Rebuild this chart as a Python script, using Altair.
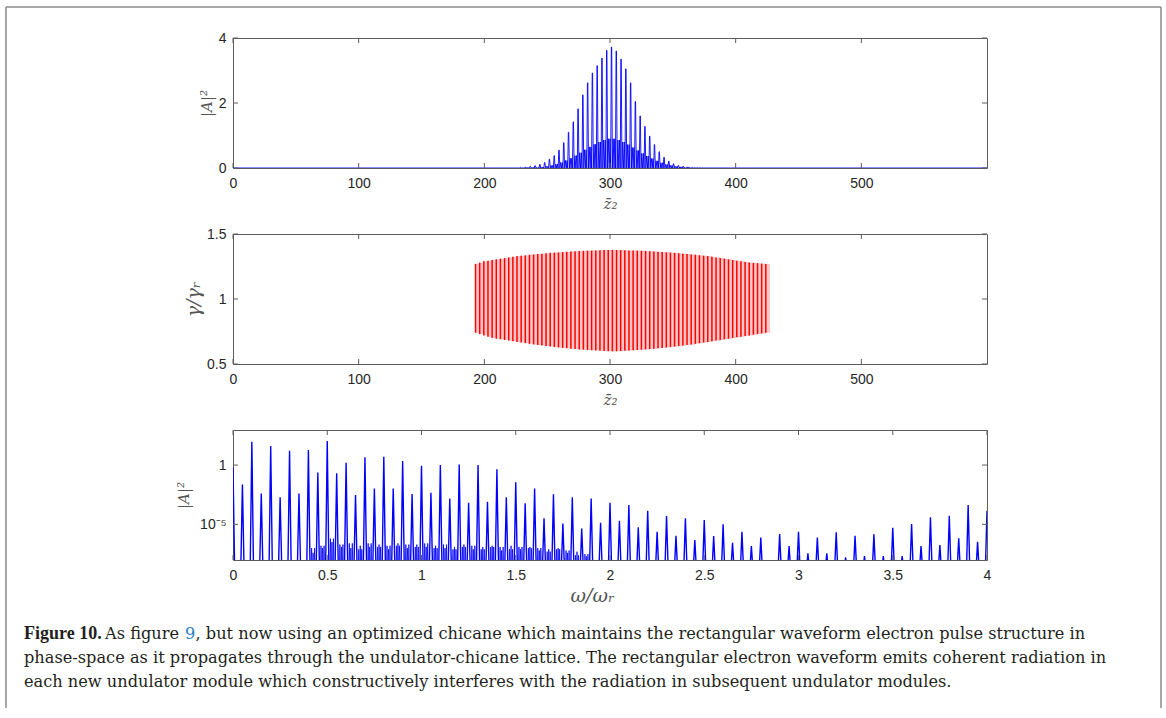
import altair as alt
import pandas as pd

# ---------------- data: panel 1 (|A|^2 vs z2) ----------------
top_z = [229.0, 232.8, 236.6, 240.4, 244.2, 248.0, 251.8, 255.6, 259.4, 263.2,
         267.0, 270.8, 274.6, 278.4, 282.2, 286.0, 289.8, 293.6, 297.4, 301.2,
         305.0, 308.8, 312.6, 316.4, 320.2, 324.0, 327.8, 331.6, 335.4, 339.2,
         343.0, 346.8, 350.6, 354.4, 358.2, 362.0, 365.8, 369.6]
top_main = [0.02, 0.03, 0.05, 0.07, 0.11, 0.17, 0.27, 0.38, 0.55, 0.78,
            1.10, 1.42, 1.82, 2.25, 2.62, 2.92, 3.15, 3.38, 3.62, 3.72,
            3.60, 3.35, 3.05, 2.62, 2.05, 1.60, 1.28, 0.98, 0.72, 0.50,
            0.33, 0.21, 0.13, 0.08, 0.05, 0.03, 0.02, 0.01]
top_fill = [0.005, 0.01, 0.015, 0.02, 0.03, 0.05, 0.08, 0.12, 0.17, 0.23,
            0.30, 0.38, 0.47, 0.56, 0.65, 0.73, 0.80, 0.86, 0.90, 0.90,
            0.86, 0.80, 0.72, 0.63, 0.54, 0.45, 0.37, 0.29, 0.22, 0.16,
            0.11, 0.08, 0.05, 0.035, 0.02, 0.012, 0.007, 0.004]

# ---------------- data: panel 2 (gamma/gamma_r vs z2) ----------------
mid_z = [193.0, 196.3, 199.6, 202.9, 206.2, 209.5, 212.8, 216.1, 219.4, 222.7,
         226.0, 229.3, 232.6, 235.9, 239.2, 242.5, 245.8, 249.1, 252.4, 255.7,
         259.0, 262.3, 265.6, 268.9, 272.2, 275.5, 278.8, 282.1, 285.4, 288.7,
         292.0, 295.3, 298.6, 301.9, 305.2, 308.5, 311.8, 315.1, 318.4, 321.7,
         325.0, 328.3, 331.6, 334.9, 338.2, 341.5, 344.8, 348.1, 351.4, 354.7,
         358.0, 361.3, 364.6, 367.9, 371.2, 374.5, 377.8, 381.1, 384.4, 387.7,
         391.0, 394.3, 397.6, 400.9, 404.2, 407.5, 410.8, 414.1, 417.4, 420.7,
         424.0]
mid_hi = [1.27, 1.28, 1.29, 1.295, 1.30, 1.305, 1.31, 1.315, 1.32, 1.325,
          1.33, 1.333, 1.336, 1.34, 1.343, 1.346, 1.349, 1.352, 1.355, 1.357,
          1.359, 1.361, 1.363, 1.365, 1.367, 1.369, 1.371, 1.372, 1.373, 1.374,
          1.375, 1.376, 1.377, 1.378, 1.377, 1.376, 1.375, 1.374, 1.373, 1.372,
          1.371, 1.369, 1.367, 1.365, 1.363, 1.361, 1.359, 1.357, 1.355, 1.352,
          1.349, 1.346, 1.343, 1.34, 1.336, 1.333, 1.33, 1.325, 1.32, 1.315,
          1.31, 1.305, 1.30, 1.295, 1.29, 1.285, 1.28, 1.278, 1.275, 1.272,
          1.27]
mid_lo = [0.74, 0.73, 0.72, 0.71, 0.70, 0.695, 0.69, 0.685, 0.68, 0.675,
          0.67, 0.665, 0.66, 0.655, 0.65, 0.646, 0.642, 0.638, 0.634, 0.63,
          0.627, 0.624, 0.621, 0.618, 0.615, 0.612, 0.61, 0.608, 0.606, 0.604,
          0.602, 0.6, 0.598, 0.597, 0.598, 0.6, 0.602, 0.604, 0.606, 0.608,
          0.61, 0.612, 0.615, 0.618, 0.621, 0.624, 0.627, 0.63, 0.634, 0.638,
          0.642, 0.646, 0.65, 0.655, 0.66, 0.665, 0.67, 0.675, 0.68, 0.685,
          0.69, 0.695, 0.70, 0.705, 0.71, 0.715, 0.72, 0.725, 0.73, 0.735,
          0.74]
mid_end = 427.3

# ---------------- data: panel 3 (spectrum, log10 |A|^2 vs w/wr) ----------------
spec_w = [0.00, 0.05, 0.10, 0.15, 0.20, 0.25, 0.30, 0.35, 0.40, 0.45,
          0.50, 0.55, 0.60, 0.65, 0.70, 0.75, 0.80, 0.85, 0.90, 0.95,
          1.00, 1.05, 1.10, 1.15, 1.20, 1.25, 1.30, 1.35, 1.40, 1.45,
          1.50, 1.55, 1.60, 1.65, 1.70, 1.75, 1.80, 1.85, 1.90, 1.95,
          2.00, 2.05, 2.10, 2.15, 2.20, 2.25, 2.30, 2.35, 2.40, 2.45,
          2.50, 2.55, 2.60, 2.65, 2.70, 2.75, 2.80, 2.85, 2.90, 2.95,
          3.00, 3.05, 3.10, 3.15, 3.20, 3.25, 3.30, 3.35, 3.40, 3.45,
          3.50, 3.55, 3.60, 3.65, 3.70, 3.75, 3.80, 3.85, 3.90, 3.95,
          4.00]
spec_log = [-0.14, -1.63, 1.96, -2.39, 1.60, -2.72, 1.20, -2.39, 1.26, -0.62,
            2.02, -0.70, 0.20, -2.53, 0.65, -1.97, 0.70, -1.97, 0.34, -2.44,
            -0.05, -2.33, 0.00, -2.81, 0.05, -3.17, 0.00, -3.09, -0.36, -2.72,
            -1.46, -3.23, -1.97, -4.49, -2.47, -4.92, -2.72, -5.34, -2.81, -4.86,
            -3.17, -4.69, -3.37, -5.25, -3.85, -5.62, -4.30, -5.96, -4.49, -6.32,
            -4.63, -5.98, -5.00, -6.54, -5.62, -6.82, -6.10, -8.50, -5.81, -6.82,
            -5.62, -7.44, -6.10, -7.44, -5.67, -7.78, -5.96, -7.67, -5.84, -7.67,
            -5.28, -7.67, -4.97, -6.82, -4.41, -6.74, -4.27, -6.18, -3.37, -6.46,
            -3.85]
grass_start = [0.40, 0.45, 0.50, 0.55, 0.60, 0.65, 0.70, 0.75, 0.80, 0.85,
               0.90, 0.95, 1.00, 1.05, 1.10, 1.15, 1.20, 1.25, 1.30, 1.35,
               1.40, 1.45, 1.50, 1.55, 1.60, 1.65, 1.70, 1.75, 1.80, 1.85]
grass_a = [-7.0, -6.8, -6.2, -6.7, -6.6, -7.1, -6.6, -6.9, -6.8, -6.8,
           -6.7, -6.9, -6.6, -7.0, -6.7, -7.1, -6.9, -6.8, -7.1, -6.9,
           -6.9, -7.1, -6.9, -7.0, -7.0, -7.3, -7.1, -7.2, -7.6, -7.5]
grass_b = [-7.4, -7.0, -6.5, -6.9, -7.0, -6.8, -6.9, -6.7, -7.1, -6.6,
           -7.0, -6.7, -6.9, -6.8, -7.0, -6.9, -6.7, -7.1, -6.9, -6.8,
           -7.2, -6.8, -7.1, -6.9, -7.2, -7.1, -7.0, -7.4, -7.3, -7.7]
spec_floor = 1e-9

# ---------------- ticks / text ----------------
z_ticks = [0, 100, 200, 300, 400, 500]
top_y_ticks = [0, 2, 4]
mid_y_ticks = [0.5, 1, 1.5]
w_ticks = [0, 0.5, 1, 1.5, 2, 2.5, 3, 3.5, 4]
spec_y_ticks = [1e-5, 1]

cap_bold = "Figure 10."
cap_l1a = "As figure"
cap_ref = "9"
cap_l1b = ", but now using an optimized chicane which maintains the rectangular waveform electron pulse structure in"
cap_l2 = "phase-space as it propagates through the undulator-chicane lattice. The rectangular electron waveform emits coherent radiation in"
cap_l3 = "each new undulator module which constructively interferes with the radiation in subsequent undulator modules."

W, H = 754, 130
FRAME = "#5c5c5c"
BLUE = "#0000ff"
RED = "#ff0000"
TITLE_C = "#555555"

# ---------------- tables ----------------
top_rows = [(0.0, 0.0)]
for z, m, f in zip(top_z, top_main, top_fill):
    for dz, v in [(-0.7, 0.0), (-0.15, m), (0.15, m), (0.7, 0.0), (1.3, f),
                  (2.0, 0.0), (2.6, f), (3.15, 0.0)]:
        top_rows.append((z + dz, v))
top_rows.append((600.0, 0.0))
top_df = pd.DataFrame(top_rows, columns=["x", "y"])

mid_df = pd.DataFrame({"x": mid_z, "x2": mid_z[1:] + [mid_end], "lo": mid_lo, "hi": mid_hi})

spec_rows = []
for w, lg in zip(spec_w, spec_log):
    spec_rows += [(w - 0.009, spec_floor), (w, 10 ** lg), (w + 0.009, spec_floor)]
spec_df = pd.DataFrame(spec_rows, columns=["x", "y"])

grass_rows = []
for g, a, b in zip(grass_start, grass_a, grass_b):
    for off, lg in ((0.017, a), (0.025, b), (0.033, a)):
        grass_rows += [(g + off - 0.003, spec_floor), (g + off, 10 ** lg), (g + off + 0.003, spec_floor)]
grass_df = pd.DataFrame(grass_rows, columns=["x", "y"])


def ax(values, title, fmt=None, label_expr=None, lab_pad=8, title_pad=4, title_size=15, title_x=None):
    kw = dict(values=values, title=title, ticks=False, tickSize=0, domain=False, grid=False,
              labelPadding=lab_pad, titlePadding=title_pad, labelFlush=False, labelOverlap=False,
              titleFontSize=title_size)
    if fmt:
        kw["format"] = fmt
    if label_expr:
        kw["labelExpr"] = label_expr
    if title_x is not None:
        kw["titleX"] = title_x
    return alt.Axis(**kw)


def tick_layers(xfield_enc, yfield_enc, xt, yt):
    xdf = pd.DataFrame({"x": xt})
    ydf = pd.DataFrame({"y": yt})
    layers = []
    for a, b in [(H, H - 5), (0, 5)]:
        layers.append(alt.Chart(xdf).mark_rule(color=FRAME, strokeWidth=1).encode(
            x=xfield_enc, y=alt.value(a), y2=alt.value(b)))
    for a, b in [(0, 5), (W, W - 5)]:
        layers.append(alt.Chart(ydf).mark_rule(color=FRAME, strokeWidth=1).encode(
            y=yfield_enc, x=alt.value(a), x2=alt.value(b)))
    return layers


ZT = "z\u0304\u2082"

# ---------------- panel 1 ----------------
x1 = alt.X("x:Q", scale=alt.Scale(domain=[0, 600], nice=False, zero=False),
           axis=ax(z_ticks, ZT, fmt="d", title_pad=6))
y1 = alt.Y("y:Q", scale=alt.Scale(domain=[0, 4], nice=False),
           axis=ax(top_y_ticks, "|A|\u00b2", fmt="d", lab_pad=7, title_pad=4))
p1_line = alt.Chart(top_df).mark_line(color=BLUE, strokeWidth=0.9, clip=True).encode(x=x1, y=y1)
p1 = alt.layer(p1_line, *tick_layers(x1, y1, z_ticks, top_y_ticks)).properties(width=W, height=H)

# ---------------- panel 2 ----------------
x2 = alt.X("x:Q", scale=alt.Scale(domain=[0, 600], nice=False, zero=False),
           axis=ax(z_ticks, ZT, fmt="d", title_pad=6))
y2_axis = ax(mid_y_ticks, "\u03b3/\u03b3\u1d63", fmt="~g", lab_pad=7, title_pad=3, title_size=19)
y2_scale = alt.Scale(domain=[0.5, 1.5], nice=False, zero=False)
y2 = alt.Y("y:Q", scale=y2_scale, axis=y2_axis)
p2_fill = alt.Chart(mid_df).mark_rect(color=RED, opacity=0.22).encode(
    x=x2, x2="x2:Q", y=alt.Y("lo:Q", scale=y2_scale, axis=y2_axis), y2="hi:Q")
p2_rule = alt.Chart(mid_df).mark_rule(color=RED, strokeWidth=1.5).encode(
    x=x2, y=alt.Y("lo:Q", scale=y2_scale, axis=y2_axis), y2="hi:Q")
p2 = alt.layer(p2_fill, p2_rule, *tick_layers(x2, y2, z_ticks, mid_y_ticks)).properties(width=W, height=H)

# ---------------- panel 3 ----------------
x3 = alt.X("x:Q", scale=alt.Scale(domain=[0, 4], nice=False, zero=False),
           axis=ax(w_ticks, "\u03c9/\u03c9\u1d63", fmt="~g", title_pad=4, title_size=19, title_x=359))
y3 = alt.Y("y:Q", scale=alt.Scale(type="log", domain=[1e-8, 900], nice=False),
           axis=ax(spec_y_ticks, "|A|\u00b2", label_expr="datum.value > 0.5 ? '1' : '10\u207b\u2075'",
                   lab_pad=7, title_pad=8))
p3_line = alt.Chart(spec_df).mark_line(color=BLUE, strokeWidth=1.4, clip=True).encode(x=x3, y=y3)
p3_grass = alt.Chart(grass_df).mark_line(color=BLUE, strokeWidth=0.8, clip=True).encode(x=x3, y=y3)
p3 = alt.layer(p3_grass, p3_line, *tick_layers(x3, y3, w_ticks, spec_y_ticks)).properties(width=W, height=H)

# ---------------- caption + outer box ----------------
dummy = pd.DataFrame({"k": [0]})
BOX = "#8a8a8a"
TXT = "#231f20"
box_top = alt.Chart().mark_rule(color=BOX, strokeWidth=1.5).encode(
    x=alt.value(-227), x2=alt.value(928), y=alt.value(-619))
box_left = alt.Chart().mark_rule(color=BOX, strokeWidth=1.5).encode(
    x=alt.value(-227), y=alt.value(-619), y2=alt.value(82))
box_right = alt.Chart().mark_rule(color=BOX, strokeWidth=1.5).encode(
    x=alt.value(928), y=alt.value(-619), y2=alt.value(82))


def cap_text(s, x, y, bold=False, color=TXT):
    if bold:
        font, size, weight = "Liberation Serif", 18, "bold"
    else:
        font, size, weight = "DejaVu Serif", 16.2, "normal"
    return alt.Chart().mark_text(align="left", baseline="alphabetic", font=font,
                                 fontSize=size, color=color, fontWeight=weight).encode(
        x=alt.value(x), y=alt.value(y), text=alt.value(s))


cap = alt.layer(
    box_top, box_left, box_right,
    cap_text(cap_bold, -209, 13, bold=True),
    cap_text(cap_l1a, -128, 13),
    cap_text(cap_ref, -48, 13, color="#2a7fc1"),
    cap_text(cap_l1b, -37.5, 13),
    cap_text(cap_l2, -209, 37),
    cap_text(cap_l3, -209, 61),
    data=dummy,
).properties(width=W, height=60, view=alt.ViewBackground(strokeOpacity=0))

chart = alt.vconcat(p1, p2, p3, cap, spacing=66, bounds="flush").properties(
    padding={"left": 5, "top": 6, "right": 4, "bottom": 0},
    background="white",
).configure_view(stroke=FRAME, strokeWidth=1).configure_axis(
    labelFont="Liberation Sans", labelFontSize=14, labelColor="#262626",
    titleFont="DejaVu Serif", titleFontStyle="italic", titleFontWeight="normal",
    titleColor=TITLE_C,
)

chart.save("out.html", embed_options={"renderer": "svg", "actions": False})
